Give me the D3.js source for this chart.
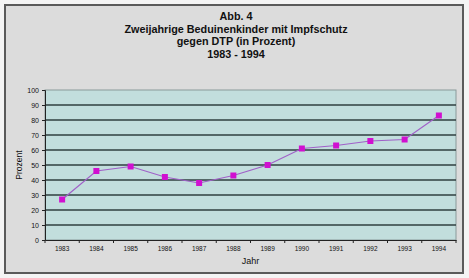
<!DOCTYPE html>
<html>
<head>
<meta charset="utf-8">
<script src="https://cdn.jsdelivr.net/npm/d3@7"></script>
<style>
  body { margin: 0; background: #f4f4f4; }
  svg { display: block; font-family: Arial, "Liberation Sans", sans-serif; }
</style>
</head>
<body>
<div id="chart"></div>
<script>
// data
const years = ["1983", "1984", "1985", "1986", "1987", "1988", "1989", "1990", "1991", "1992", "1993", "1994"];
const values = [27, 46, 49, 42, 38, 43, 50, 61, 63, 66, 67, 83];
const yTicks = [0, 10, 20, 30, 40, 50, 60, 70, 80, 90, 100];
const titleLines = ["Abb. 4", "Zweijahrige Beduinenkinder mit Impfschutz", "gegen DTP (in Prozent)", "1983 - 1994"];

const W = 469, H = 278;
const margin = {top: 90, right: 13, bottom: 38, left: 45};
const width = W - margin.left - margin.right;
const height = H - margin.top - margin.bottom;

const svg = d3.select("#chart").append("svg")
    .attr("width", W)
    .attr("height", H);

// outer frame
svg.append("rect")
    .attr("x", 5).attr("y", 5)
    .attr("width", 458).attr("height", 268)
    .attr("fill", "#dcdcdc")
    .attr("stroke", "#5a5a5a")
    .attr("stroke-width", 2);

// title
svg.append("g").selectAll("text")
    .data(titleLines)
    .enter()
    .append("text")
    .attr("x", 236)
    .attr("y", (d, i) => 20 + i * 12.7)
    .attr("text-anchor", "middle")
    .attr("font-size", 10.8)
    .attr("font-weight", "bold")
    .attr("fill", "#111")
    .text(d => d);

const g = svg.append("g")
    .attr("transform", `translate(${margin.left}, ${margin.top})`);

const x = d3.scaleBand().domain(years).range([0, width]);
const y = d3.scaleLinear().domain([0, 100]).range([height, 0]);

// plot background
g.append("rect")
    .attr("width", width)
    .attr("height", height)
    .attr("fill", "#c2dedd")
    .attr("stroke", "#8a9a9a")
    .attr("stroke-width", 1);

// grid lines
g.append("g")
    .selectAll("line")
    .data(yTicks.filter(d => d > 0 && d < 100))
    .enter()
    .append("line")
    .attr("x1", 0).attr("x2", width)
    .attr("y1", d => y(d)).attr("y2", d => y(d))
    .attr("stroke", "#2f3f3f")
    .attr("stroke-width", 1.5);

// y axis
const yAxis = g.append("g")
    .call(d3.axisLeft(y).tickValues(yTicks).tickSize(3).tickPadding(3));
yAxis.select(".domain").attr("stroke", "#222");
yAxis.selectAll("text").attr("font-size", 7).attr("fill", "#111");
yAxis.selectAll("line").attr("stroke", "#222");

// x axis with ticks at band edges
const xAxis = g.append("g")
    .attr("transform", `translate(0, ${height})`)
    .call(d3.axisBottom(x).tickSize(0).tickPadding(6));
xAxis.select(".domain").attr("stroke", "#222");
xAxis.selectAll("text").attr("font-size", 6.5).attr("fill", "#111");
xAxis.selectAll(".edge")
    .data(d3.range(years.length + 1))
    .enter()
    .append("line")
    .attr("class", "edge")
    .attr("x1", i => i * x.bandwidth()).attr("x2", i => i * x.bandwidth())
    .attr("y1", 0).attr("y2", 3)
    .attr("stroke", "#222");

// axis titles
svg.append("text")
    .attr("transform", `translate(22, ${margin.top + height / 2}) rotate(-90)`)
    .attr("text-anchor", "middle")
    .attr("font-size", 8.5)
    .attr("fill", "#111")
    .text("Prozent");

svg.append("text")
    .attr("x", margin.left + width / 2)
    .attr("y", 264)
    .attr("text-anchor", "middle")
    .attr("font-size", 9)
    .attr("fill", "#111")
    .text("Jahr");

// line + markers
const line = d3.line()
    .x((d, i) => x(years[i]) + x.bandwidth() / 2)
    .y(d => y(d));

g.append("path")
    .datum(values)
    .attr("d", line)
    .attr("fill", "none")
    .attr("stroke", "#a060c8")
    .attr("stroke-width", 1.2);

g.selectAll(".pt")
    .data(values)
    .enter()
    .append("rect")
    .attr("class", "pt")
    .attr("x", (d, i) => x(years[i]) + x.bandwidth() / 2 - 3)
    .attr("y", d => y(d) - 3)
    .attr("width", 6)
    .attr("height", 6)
    .attr("fill", "#d010d0");
</script>
</body>
</html>
